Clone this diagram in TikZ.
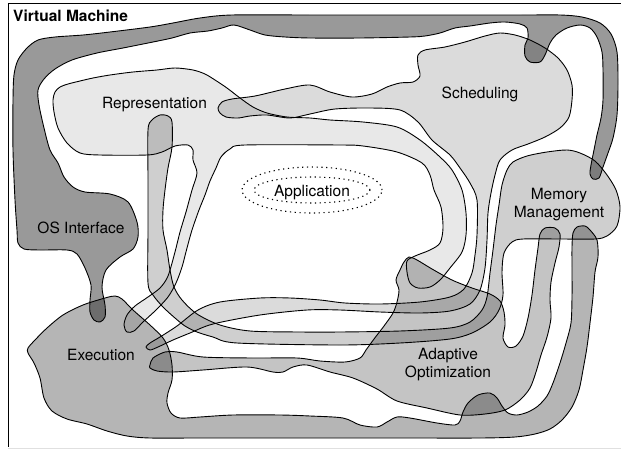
\documentclass[tikz,border=0pt]{standalone}
\usepackage{fontspec}
\setmainfont{TeX Gyre Heros}
\begin{document}
\begin{tikzpicture}[x=1pt,y=-1pt,
  blob/.style={draw=black, line width=0.9pt, line join=round, fill=black},
  lbl/.style={font=\fontsize{15.5}{18.5}\selectfont, inner sep=0pt, anchor=base},
  dotring/.style={draw=black, line width=1.1pt, dash pattern=on 1.2pt off 3.6pt}]
\useasboundingbox (0,0) rectangle (621,450);
% frame
\draw[line width=0.9pt] (621,3) -- (8,3) -- (8,447);
\draw[black!12, line width=0.8pt] (8,448) -- (621,448);

% Representation
\path[blob, fill opacity=0.09] plot[smooth cycle, tension=0.5] coordinates {
(53,100) (55,92) (60,87) (68,84) (80,81) (93,78) (110,75) (133,72) (157,70) (175,68) (193,70) (205,74) (215,80) (227,88) (240,98) (253,107) (267,113) (287,117) (310,118) (330,120) (363,122) (397,127) (420,140) (440,157) (452,170) (462,190) (466,213) (466,235) (462,252) (450,268) (440,280) (430,287) (418,288) (410,283) (407,272) (407,261) (415,256) (430,250) (440,243) (443,228) (441,207) (434,190) (430,175) (422,163) (397,152) (363,146) (340,145) (245,145) (230,149) (221,157) (216,168) (210,181) (205,195) (199,210) (192,230) (187,248) (182,267) (176,283) (168,297) (156,310) (143,322) (134,331) (127,332) (124,325) (127,315) (135,306) (148,297) (160,288) (168,276) (175,252) (180,232) (186,212) (192,190) (197,173) (193,160) (193,150) (188,145) (175,146) (162,152) (147,155) (100,155) (80,153) (67,143) (58,128) (54,112)};

% Scheduling
\path[blob, fill opacity=0.14] plot[smooth cycle, tension=0.5] coordinates {
(218,108) (222,102) (232,99) (255,96) (285,89) (310,85) (330,92) (352,97) (372,94) (387,87) (400,83) (413,82) (420,76) (418,65) (418,55) (425,50) (445,47) (465,42) (485,36) (500,33) (515,35) (530,40) (545,48) (558,58) (567,70) (572,85) (572,100) (569,117) (560,128) (545,137) (528,144) (512,150) (500,160) (495,175) (491,193) (488,213) (487,240) (485,268) (480,290) (470,304) (450,311) (420,313) (380,312) (340,310) (307,310) (260,315) (213,324) (190,333) (173,340) (158,347) (150,350) (146,347) (150,343) (160,337) (177,326) (198,310) (220,302) (260,298) (290,298) (320,300) (345,303) (380,304) (420,302) (450,297) (464,289) (472,273) (475,255) (477,235) (477,200) (470,183) (460,168) (450,155) (432,140) (418,122) (400,110) (370,108) (335,109) (310,114) (290,118) (267,115) (250,116) (238,118) (226,117) (220,113)};

% Memory Management
\path[blob, fill opacity=0.19] plot[smooth cycle, tension=0.5] coordinates {
(507,170) (513,162) (527,156) (547,152) (567,150) (580,153) (595,161) (607,175) (616,190) (620,207) (617,226) (607,236) (595,239) (560,239) (523,239) (512,242) (504,253) (502,272) (503,295) (499,310) (490,322) (472,333) (450,339) (400,343) (340,345) (237,343) (213,337) (197,332) (185,326) (175,318) (163,307) (153,295) (148,283) (148,230) (148,180) (148,130) (152,120) (160,115) (168,116) (172,122) (172,147) (168,168) (165,190) (163,210) (163,230) (167,250) (170,270) (174,287) (182,300) (197,314) (220,325) (250,331) (300,332) (340,332) (400,331) (450,328) (470,322) (482,310) (487,297) (490,273) (493,250) (496,225) (499,205) (502,185)};

% Adaptive Optimization
\path[blob, fill opacity=0.23] plot[smooth cycle, tension=0.5] coordinates {
(150,365) (153,358) (165,352) (177,352) (203,357) (253,358) (297,358) (320,361) (345,362) (360,358) (366,350) (374,339) (384,326) (393,313) (397,302) (399,290) (396,280) (400,270) (404,262) (409,257) (417,260) (432,269) (452,280) (472,288) (490,294) (500,301) (504,312) (505,325) (503,338) (508,347) (516,346) (523,336) (528,318) (532,295) (535,270) (538,248) (540,234) (545,228) (555,228) (560,234) (559,247) (555,263) (551,282) (550,300) (551,318) (547,337) (541,355) (536,372) (530,388) (520,400) (505,410) (485,414) (460,415) (427,408) (397,401) (377,389) (353,378) (330,372) (307,365) (293,367) (283,372) (273,372) (247,367) (203,370) (173,372) (157,371) (150,368)};

% Execution
\path[blob, fill opacity=0.29] plot[smooth cycle, tension=0.5] coordinates {
(28,348) (35,340) (47,328) (63,315) (83,305) (105,298) (115,296) (122,299) (133,310) (150,325) (163,338) (169,350) (172,365) (172,380) (168,393) (167,403) (171,413) (180,418) (200,417) (233,415) (280,415) (310,416) (343,418) (360,425) (377,427) (387,422) (397,417) (410,418) (437,423) (455,425) (460,421) (463,412) (468,403) (478,395) (490,393) (497,398) (502,406) (508,413) (517,415) (528,412) (538,406) (547,396) (553,383) (560,363) (566,343) (571,323) (572,297) (572,270) (572,247) (573,233) (577,227) (585,226) (590,230) (597,240) (598,257) (595,272) (593,297) (590,323) (587,347) (583,370) (579,390) (572,407) (562,420) (550,429) (535,434) (515,437) (480,438) (400,438) (300,438) (200,438) (150,438) (127,436) (107,431) (87,424) (67,419) (52,411) (44,398) (40,378) (34,363) (28,353)};

% OS Interface
\path[blob, fill opacity=0.40] plot[smooth cycle, tension=0.5] coordinates {
(100,322) (105,317) (105,305) (102,287) (106,270) (120,257) (133,249) (138,237) (137,222) (128,202) (110,194) (85,192) (73,187) (64,177) (58,163) (50,150) (44,128) (39,105) (38,90) (44,79) (55,69) (72,60) (97,53) (123,48) (153,42) (172,38) (190,33) (208,31) (222,28) (234,25) (250,30) (265,35) (285,37) (310,38) (360,38) (410,37) (425,36) (440,33) (455,28) (470,26) (490,23) (505,22) (520,24) (527,28) (528,38) (525,45) (525,56) (530,62) (540,62) (545,55) (550,43) (556,35) (567,28) (580,25) (590,28) (597,37) (602,52) (603,70) (603,100) (601,118) (597,135) (594,150) (591,165) (590,174) (593,179) (599,178) (603,167) (608,153) (613,138) (617,115) (618,83) (617,52) (611,34) (600,23) (582,17) (560,15) (520,15) (400,15) (310,15) (232,15) (200,18) (173,23) (150,27) (110,32) (83,35) (55,37) (38,40) (27,48) (18,60) (14,75) (13,100) (13,150) (15,200) (17,230) (18,243) (24,249) (40,250) (67,250) (77,254) (85,268) (91,285) (90,300) (90,312) (94,320)};

% Application
\draw[dotring] (312,190) ellipse [x radius=70pt, y radius=23pt];
\draw[dotring] (312,190) ellipse [x radius=58pt, y radius=13pt];

% labels
\node[lbl, font=\fontsize{15.5}{18.5}\selectfont\bfseries, anchor=base west] (vm) at (13,21) {Virtual Machine};
\node[lbl] (rep) at (154.5,108) {Representation};
\node[lbl] (sch) at (480,98) {Scheduling};
\node[lbl] (app) at (312,196) {Application};
\node[lbl] (mm1) at (559,199) {Memory};
\node[lbl] (mm2) at (559,217) {Management};
\node[lbl] (os) at (81,233) {OS Interface};
\node[lbl] (exe) at (101,360) {Execution};
\node[lbl] (ao1) at (448,359) {Adaptive};
\node[lbl] (ao2) at (448,377) {Optimization};
\end{tikzpicture}
\end{document}
